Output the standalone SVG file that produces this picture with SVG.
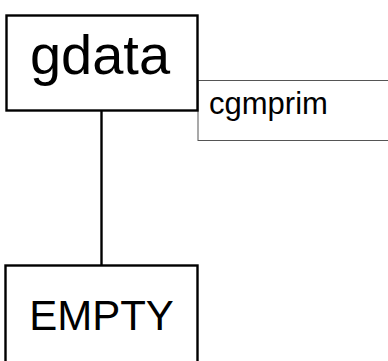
<svg xmlns="http://www.w3.org/2000/svg" width="388" height="361" viewBox="0 0 388 361">
<style>
.node{fill:#fff;stroke:#000;stroke-width:2.4}
.lbl{fill:#000;stroke:none;font-family:"Liberation Sans",Arial,sans-serif}
.edge{stroke:#000;stroke-width:2.4;fill:none}
.note{fill:#fff;stroke:#555;stroke-width:1}
</style>
<rect width="388" height="361" fill="#fff"/>
<g id="cgmprim">
<rect class="note" x="198" y="80.5" width="200" height="60"/>
<text class="lbl" x="209" y="114" font-size="31">cgmprim</text>
</g>
<g id="connectors">
<line class="edge" x1="101.5" y1="110" x2="101.5" y2="266"/>
</g>
<g id="gdata">
<rect class="node" x="6.5" y="15.5" width="191" height="95"/>
<text class="lbl" x="100" y="74" font-size="56" text-anchor="middle">gdata</text>
</g>
<g id="EMPTY">
<rect class="node" x="5.5" y="265.5" width="192" height="110"/>
<text class="lbl" x="101.5" y="330" font-size="42" text-anchor="middle">EMPTY</text>
</g>
</svg>
